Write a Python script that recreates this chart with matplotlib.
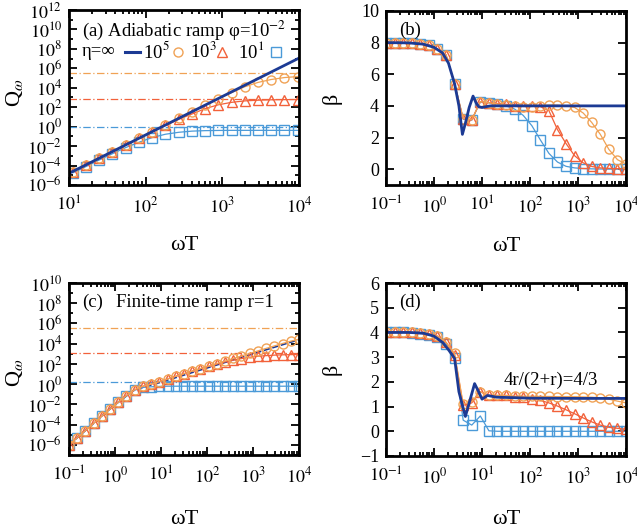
import numpy as np
import matplotlib
matplotlib.use("Agg")
import matplotlib.pyplot as plt
from matplotlib.ticker import LogLocator, FixedLocator, NullFormatter, FuncFormatter

plt.rcParams['font.family'] = ['Liberation Serif', 'DejaVu Serif']
plt.rcParams['mathtext.fontset'] = 'stix'
plt.rcParams['font.size'] = 13

# colours
C_INF = '#1c3a94'
C_E5 = '#f0a255'
C_E3 = '#f2613a'
C_E1 = '#4b9ad8'

# ---------------- panel (a): adiabatic ramp, Q vs wT ----------------
a_x = [11.2, 16.7, 24.8, 36.9, 55, 82, 122, 181, 270, 401, 596, 887,
       1320, 1960, 2920, 4340, 6450, 9600]
a_inf_x = [10, 100, 1000, 10000]
a_inf_lq = [-4.8, -0.85, 3.1, 7.05]
a_e5_lq = [-4.65, -3.96, -3.27, -2.58, -1.89, -1.2, -0.51, 0.18, 0.87, 1.55,
           2.22, 2.88, 3.5, 4.1, 4.55, 4.85, 5.05, 5.15]
a_e3_lq = [-4.65, -3.96, -3.27, -2.58, -1.89, -1.2, -0.53, 0.12, 0.75, 1.3,
           1.85, 2.25, 2.5, 2.65, 2.72, 2.76, 2.78, 2.79]
a_e1_lq = [-4.75, -4.1, -3.43, -2.78, -2.15, -1.6, -1.12, -0.78, -0.58, -0.46,
           -0.41, -0.39, -0.38, -0.38, -0.38, -0.38, -0.38, -0.38]
a_sat_lq = [5.55, 2.82, -0.05]   # dash-dot levels for 10^5, 10^3, 10^1

# ---------------- panels (b)-(d) share the same wT grid ----------------
g_x = [0.1, 0.151, 0.228, 0.343, 0.518, 0.781, 1.18, 1.78, 2.68, 4.05,
       6.11, 9.21, 13.9, 21.0, 31.6, 47.7, 72.0, 109, 164, 247, 373, 562,
       848, 1280, 1930, 2910, 4390, 6630, 10000]

# (b) beta for adiabatic ramp
b_inf_x = [0.1, 0.3, 0.6, 1.0, 1.5, 2.0, 2.68, 3.3, 3.9, 4.5, 5.4, 6.5,
           7.5, 8.5, 10, 12, 15, 30, 100, 1000, 10000]
b_inf_y = [8.0, 7.98, 7.9, 7.7, 7.35, 6.7, 5.4, 4.0, 2.2, 2.9, 3.9, 4.62,
           4.2, 3.95, 3.9, 3.95, 4.0, 4.0, 4.0, 4.0, 4.0]
b_e5 = [8.0, 8.0, 8.0, 7.98, 7.94, 7.85, 7.58, 7.22, 5.41, 3.2, 3.12, 4.27,
        4.2, 4.12, 4.05, 4.0, 3.96, 3.96, 4.02, 4.05, 4.05, 4.0, 3.9, 3.55,
        2.95, 2.2, 1.25, 0.6, 0.32]
b_e3 = [8.0, 8.0, 8.0, 7.98, 7.92, 7.85, 7.58, 7.22, 5.41, 3.18, 3.12, 4.27,
        4.2, 4.15, 4.1, 4.02, 3.98, 3.98, 3.95, 3.7, 2.5, 1.62, 0.85, 0.4,
        0.17, 0.08, 0.05, 0.03, 0.02]
b_e1 = [8.0, 8.0, 8.0, 7.96, 7.9, 7.85, 7.58, 7.22, 5.41, 3.16, 3.1, 4.25,
        4.2, 4.12, 4.0, 3.8, 3.4, 2.75, 1.85, 1.0, 0.45, 0.18, 0.08, 0.04,
        0.02, 0.01, 0.0, 0.0, 0.0]

# (c) Q for finite-time ramp r=1 (log10 values)
c_inf_x = [0.1, 1.0, 2.68, 10, 100, 1000, 10000]
c_inf_lq = [-6.0, -2.02, -0.55, 0.2, 1.6, 3.0, 4.4]
c_e5_lq = [-6.0, -5.29, -4.58, -3.87, -3.16, -2.46, -1.78, -1.12, -0.55,
           -0.2, 0.0, 0.25, 0.52, 0.78, 1.04, 1.29, 1.54, 1.79, 2.04, 2.29,
           2.54, 2.79, 3.04, 3.29, 3.54, 3.78, 4.02, 4.25, 4.45]
c_e3_lq = [-6.0, -5.29, -4.58, -3.87, -3.16, -2.46, -1.78, -1.12, -0.55,
           -0.2, 0.0, 0.25, 0.52, 0.78, 1.04, 1.29, 1.53, 1.77, 1.99, 2.2,
           2.38, 2.53, 2.66, 2.76, 2.82, 2.87, 2.9, 2.92, 2.93]
c_e1_lq = [-6.0, -5.29, -4.58, -3.87, -3.17, -2.48, -1.81, -1.16, -0.6,
           -0.32, -0.26, -0.22, -0.2, -0.2, -0.2, -0.2, -0.2, -0.2,
           -0.2, -0.2, -0.2, -0.2, -0.2, -0.2, -0.2, -0.2, -0.2,
           -0.2, -0.2]
c_sat_lq = [5.55, 3.05, 0.25]

# (d) beta for finite-time ramp
d_inf_x = [0.1, 0.3, 0.6, 1.0, 1.5, 2.0, 2.68, 3.3, 4.5, 5.5, 7.0, 8.5,
           10, 13, 20, 100, 1000, 10000]
d_inf_y = [4.0, 4.0, 3.97, 3.85, 3.6, 3.3, 2.95, 1.6, 0.6, 1.2, 1.93, 1.6,
           1.3, 1.45, 1.38, 1.34, 1.33, 1.33]
d_e5 = [4.0, 4.0, 4.02, 4.0, 3.98, 3.95, 3.85, 3.6, 3.15, 1.1, 1.2, 1.6,
        1.45, 1.45, 1.45, 1.42, 1.42, 1.42, 1.41, 1.41, 1.4, 1.4, 1.4, 1.39,
        1.38, 1.35, 1.3, 1.22, 1.15]
d_e3 = [4.0, 4.0, 4.02, 4.0, 3.98, 3.95, 3.85, 3.6, 3.1, 1.05, 1.15, 1.6,
        1.45, 1.45, 1.45, 1.4, 1.37, 1.32, 1.25, 1.15, 1.02, 0.87, 0.71,
        0.54, 0.38, 0.25, 0.16, 0.12, 0.08]
d_e1 = [4.0, 4.0, 4.0, 3.98, 3.95, 3.9, 3.8, 3.55, 2.95, 0.45, 0.25, 0.62,
        0.02, 0.0, 0.0, 0.0, 0.0, 0.0, 0.0, 0.0, 0.0, 0.0, 0.0, 0.0, 0.0,
        0.0, 0.0, 0.0, 0.0]

legend_labels = ['η=∞', '10$^5$', '10$^3$', '10$^1$']


def pow_fmt(v, pos):
    return r'$10^{%d}$' % int(round(np.log10(v)))


def style(ax):
    for s in ax.spines.values():
        s.set_linewidth(2.0)
    ax.tick_params(which='both', direction='in', top=True, right=True,
                   labelsize=13, width=1.3)
    ax.tick_params(which='major', length=6)
    ax.tick_params(axis='x', which='major', pad=8)
    ax.tick_params(axis='y', which='major', pad=5)
    ax.tick_params(which='minor', length=3)


def logx(ax, lo, hi):
    ax.set_xscale('log')
    ax.set_xlim(lo, hi)
    ax.xaxis.set_major_locator(LogLocator(base=10, numticks=20))
    ax.xaxis.set_minor_locator(LogLocator(base=10, subs=np.arange(2, 10), numticks=20))
    ax.xaxis.set_major_formatter(FuncFormatter(pow_fmt))
    ax.xaxis.set_minor_formatter(NullFormatter())


def logy(ax, elo, ehi, ticks):
    ax.set_yscale('log')
    ax.set_ylim(10.0 ** elo, 10.0 ** ehi)
    ax.yaxis.set_major_locator(FixedLocator([10.0 ** e for e in ticks]))
    ax.yaxis.set_minor_locator(FixedLocator([10.0 ** e for e in range(elo, ehi + 1)]))
    ax.yaxis.set_major_formatter(FuncFormatter(pow_fmt))
    ax.yaxis.set_minor_formatter(NullFormatter())


def labels(ax, ylab, ylx, yly, xly):
    ax.set_ylabel(ylab, fontsize=16, labelpad=0)
    ax.yaxis.set_label_coords(ylx, yly)
    ax.set_xlabel('ωT', fontsize=16)
    ax.xaxis.set_label_coords(0.5, xly)


mk = dict(mfc='none', ms=6.5, mew=1.0, lw=0.9)
dashdot = (0, (6, 2, 1, 2))

fig = plt.figure(figsize=(6.37, 5.29), dpi=100)
axa = fig.add_axes([0.1083, 0.6503, 0.361, 0.3308])
axb = fig.add_axes([0.606, 0.6503, 0.3768, 0.329])
axc = fig.add_axes([0.1083, 0.1399, 0.361, 0.3251])
axd = fig.add_axes([0.606, 0.138, 0.3768, 0.327])

# ---- (a)
for lv, c in zip(a_sat_lq, [C_E5, C_E3, C_E1]):
    axa.axhline(10.0 ** lv, color=c, lw=0.9, ls=dashdot)
axa.plot(a_x, 10.0 ** np.array(a_e1_lq), 's-', color=C_E1, **mk)
axa.plot(a_x, 10.0 ** np.array(a_e3_lq), '^-', color=C_E3, **mk)
axa.plot(a_x, 10.0 ** np.array(a_e5_lq), 'o-', color=C_E5, **mk)
axa.plot(a_inf_x, 10.0 ** np.array(a_inf_lq), '-', color=C_INF, lw=2)
logx(axa, 10, 1e4)
logy(axa, -6, 12, range(-6, 13, 2))
style(axa)
labels(axa, r'Q$_\omega$', -0.19, 0.53, -0.29)
axa.text(0.055, 0.886, '(a) Adiabatic ramp φ=10$^{-2}$', transform=axa.transAxes,
         fontsize=13.5, va='center')

# legend row drawn by hand: label first, then the sample (gnuplot style)
tr = axa.transAxes
ly = 0.76
axa.text(0.057, ly, legend_labels[0], transform=tr, fontsize=13.5, va='center')
axa.plot([0.243, 0.309], [ly, ly], transform=tr, color=C_INF, lw=2.2)
axa.text(0.322, ly, legend_labels[1], transform=tr, fontsize=13.5, va='center')
axa.plot([0.474], [ly], 'o', transform=tr, color=C_E5, mfc='none', ms=6.5)
axa.text(0.526, ly, legend_labels[2], transform=tr, fontsize=13.5, va='center')
axa.plot([0.665], [ly], '^', transform=tr, color=C_E3, mfc='none', ms=6.5)
axa.text(0.735, ly, legend_labels[3], transform=tr, fontsize=13.5, va='center')
axa.plot([0.9], [ly], 's', transform=tr, color=C_E1, mfc='none', ms=6.5)

# ---- (b)
axb.plot(g_x, b_e1, 's-', color=C_E1, **mk)
axb.plot(g_x, b_e3, '^-', color=C_E3, **mk)
axb.plot(g_x, b_e5, 'o-', color=C_E5, **mk)
axb.plot(b_inf_x, b_inf_y, '-', color=C_INF, lw=2)
logx(axb, 0.1, 1e4)
axb.set_ylim(-1, 10)
axb.yaxis.set_major_locator(FixedLocator([0, 2, 4, 6, 8, 10]))
style(axb)
labels(axb, 'β', -0.185, 0.5, -0.30)
axb.text(0.055, 0.86, '(b)', transform=axb.transAxes, fontsize=13.5)

# ---- (c)
for lv, c in zip(c_sat_lq, [C_E5, C_E3, C_E1]):
    axc.axhline(10.0 ** lv, color=c, lw=0.9, ls=dashdot)
axc.plot(c_inf_x, 10.0 ** np.array(c_inf_lq), '--', color=C_INF, lw=1.2)
axc.plot(g_x, 10.0 ** np.array(c_e1_lq), 's-', color=C_E1, **mk)
axc.plot(g_x, 10.0 ** np.array(c_e3_lq), '^-', color=C_E3, **mk)
axc.plot(g_x, 10.0 ** np.array(c_e5_lq), 'o-', color=C_E5, **mk)
logx(axc, 0.1, 1e4)
logy(axc, -7, 10, range(-6, 11, 2))
style(axc)
labels(axc, r'Q$_\omega$', -0.19, 0.48, -0.32)
axc.text(0.055, 0.86, '(c)', transform=axc.transAxes, fontsize=13.5)
axc.text(0.205, 0.86, 'Finite-time ramp r=1', transform=axc.transAxes, fontsize=13.5)

# ---- (d)
axd.plot(g_x, d_e1, 's-', color=C_E1, **mk)
axd.plot(g_x, d_e3, '^-', color=C_E3, **mk)
axd.plot(g_x, d_e5, 'o-', color=C_E5, **mk)
axd.plot(d_inf_x, d_inf_y, '-', color=C_INF, lw=2)
logx(axd, 0.1, 1e4)
axd.set_ylim(-1, 6)
axd.yaxis.set_major_locator(FixedLocator([-1, 0, 1, 2, 3, 4, 5, 6]))
style(axd)
labels(axd, 'β', -0.185, 0.5, -0.31)
axd.text(0.055, 0.86, '(d)', transform=axd.transAxes, fontsize=13.5)
axd.text(0.49, 0.41, '4r/(2+r)=4/3', transform=axd.transAxes, fontsize=13.5)

fig.savefig('out.png', dpi=100)
